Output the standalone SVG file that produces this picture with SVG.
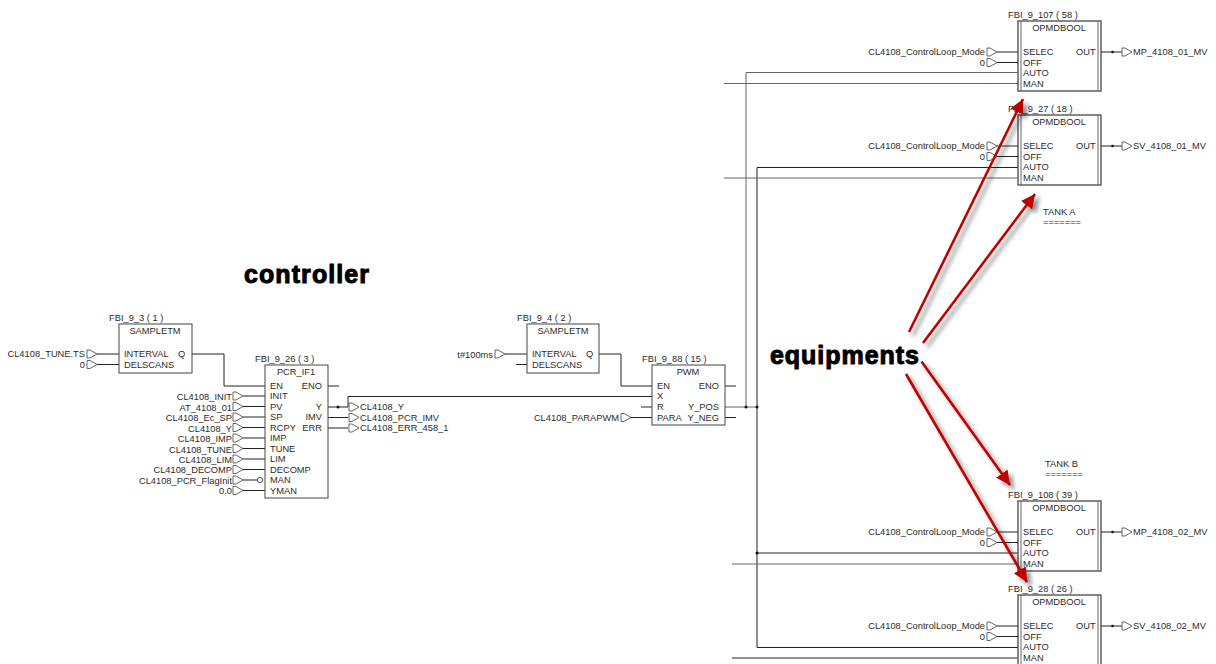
<svg xmlns="http://www.w3.org/2000/svg" xmlns:xlink="http://www.w3.org/1999/xlink" width="1216" height="664" viewBox="0 0 1216 664">
<style>
text{font-family:"Liberation Sans",Arial,sans-serif;font-size:9.3px;fill:#2b2b2b}
.m{text-anchor:middle}.e{text-anchor:end}
.box{fill:#fff;stroke:#444;stroke-width:1}
.dbl{fill:#fff;stroke:#555;stroke-width:1.4}
.w,.w2{fill:none;stroke:#222;stroke-width:1}
.w2{stroke:#666}
.flag{fill:#fff;stroke:#555;stroke-width:.9}
.d{fill:#111}
.big{font-weight:bold;fill:#000;stroke:#000;stroke-width:1}
.red{stroke:#c00000;stroke-width:2.6;fill:none;marker-end:url(#ah)}
</style>
<defs>
<marker id="ah" markerUnits="userSpaceOnUse" markerWidth="16" markerHeight="14" refX="14" refY="7" orient="auto"><path d="M0 0L14 7L0 14Z" fill="#c00000"/></marker>
<filter id="sh" x="-20%" y="-20%" width="140%" height="140%"><feDropShadow dx="4" dy="4" stdDeviation="2" flood-color="#000" flood-opacity=".45"/></filter>
<path id="f" d="M3-4H0V4H3L10 0Z"/>
<g id="opm">
<rect class="dbl" x="0" y="0" width="83" height="70"/>
<path class="w2" d="M3 0V70M80 0V70"/>
<text class="m" x="41" y="10">OPMDBOOL</text>
<text x="5" y="34">SELEC</text><text x="5" y="44.500">OFF</text><text x="5" y="55">AUTO</text><text x="5" y="65.500">MAN</text>
<text x="58" y="34">OUT</text>
<path class="w" d="M-21 31H0M-21 41.500H0M83 31H104"/>
<circle class="d" cx="94.500" cy="31" r="1.300"/>
<use href="#f" class="flag" x="-31" y="31"/><use href="#f" class="flag" x="-31" y="41.500"/><use href="#f" class="flag" x="104" y="31"/>
<text class="e" x="-33" y="34">CL4108_ControlLoop_Mode</text><text class="e" x="-33" y="44.500">0</text>
</g>
</defs>
<rect width="1216" height="664" fill="#fff"/>
<g id="connectors">
<path class="w" d="M192 354H224V386H265M599 354H621V386H652M348 407V396.500H652"/>
<path class="w" d="M328 407H348M328 417.500H348M328 428H348M328 386H339"/>
<path class="w" d="M725 386H736M725 417.500H736M641 407H652"/>
<path class="w2" d="M725 407H757"/>
<path class="w2" d="M746 407V72.500H1018M724 83.500H1018"/>
<path class="w" d="M757 647.500V167.500H1018M757 553H1018M757 647.500H1018"/>
<path class="w2" d="M724 178H1018M732 564H1018"/>
<path class="w" d="M732 658H1018"/>
<circle class="d" cx="338" cy="407" r="1.500"/>
<circle class="d" cx="746" cy="407" r="1.500"/><circle class="d" cx="757" cy="407" r="1.500"/><circle class="d" cx="757" cy="553" r="1.500"/>
</g>
<g id="sampletm1">
<text x="109" y="321">FBI_9_3 ( 1 )</text>
<path class="w" d="M97 354H119M97 364.500H119"/>
<rect class="box" x="119" y="324" width="73" height="49"/>
<text class="m" x="155" y="334">SAMPLETM</text><text x="124" y="357">INTERVAL</text><text x="124" y="367.500">DELSCANS</text><text x="178" y="357">Q</text>
<use href="#f" class="flag" x="87" y="354"/><use href="#f" class="flag" x="87" y="364.500"/>
<text class="e" x="85" y="357">CL4108_TUNE.TS</text><text class="e" x="85" y="368">0</text>
</g>
<g id="pcr">
<text x="255" y="362">FBI_9_26 ( 3 )</text>
<path class="w" d="M243 396H265M243 406.500H265M243 417H265M243 427.500H265M243 438H265M243 448.500H265M243 459H265M243 469.500H265M243 480H257.500M243 490.500H265"/>
<circle cx="260" cy="480" r="2.500" fill="#fff" stroke="#444"/>
<rect class="box" x="265" y="365" width="63" height="133"/>
<text class="m" x="296" y="375">PCR_IF1</text>
<text x="270" y="389">EN</text><text x="270" y="399">INIT</text><text x="270" y="409.500">PV</text><text x="270" y="420">SP</text><text x="270" y="430.500">RCPY</text><text x="270" y="441">IMP</text><text x="270" y="451.500">TUNE</text><text x="270" y="462">LIM</text><text x="270" y="472.500">DECOMP</text><text x="270" y="483">MAN</text><text x="270" y="493.500">YMAN</text>
<text class="e" x="322" y="389">ENO</text><text class="e" x="322" y="409.500">Y</text><text class="e" x="322" y="420">IMV</text><text class="e" x="322" y="430.500">ERR</text>
<g class="flag"><use href="#f" x="233" y="396"/><use href="#f" x="233" y="406.500"/><use href="#f" x="233" y="417"/><use href="#f" x="233" y="427.500"/><use href="#f" x="233" y="438"/><use href="#f" x="233" y="448.500"/><use href="#f" x="233" y="459"/><use href="#f" x="233" y="469.500"/><use href="#f" x="233" y="480"/><use href="#f" x="233" y="490.500"/>
<use href="#f" x="349" y="407"/><use href="#f" x="349" y="417.500"/><use href="#f" x="349" y="428"/></g>
<text class="e" x="232" y="400">CL4108_INIT</text><text class="e" x="232" y="410.500">AT_4108_01</text><text class="e" x="232" y="421">CL4108_Ec_SP</text><text class="e" x="232" y="431.500">CL4108_Y</text><text class="e" x="232" y="442">CL4108_IMP</text><text class="e" x="232" y="452.500">CL4108_TUNE</text><text class="e" x="232" y="463">CL4108_LIM</text><text class="e" x="232" y="473">CL4108_DECOMP</text><text class="e" x="232" y="484">CL4108_PCR_FlagInit</text><text class="e" x="232" y="494">0.0</text>
<text x="360" y="410">CL4108_Y</text><text x="360" y="420.500">CL4108_PCR_IMV</text><text x="360" y="431">CL4108_ERR_458_1</text>
</g>
<g id="sampletm2">
<text x="517" y="321">FBI_9_4 ( 2 )</text>
<path class="w" d="M505 354H527M516 364.500H527"/>
<rect class="box" x="527" y="324" width="72" height="49"/>
<text class="m" x="563" y="334">SAMPLETM</text><text x="532" y="357">INTERVAL</text><text x="532" y="367.500">DELSCANS</text><text x="586" y="357">Q</text>
<use href="#f" class="flag" x="495" y="354"/>
<text class="e" x="493" y="357.500">t#100ms</text>
</g>
<g id="pwm">
<text x="642" y="362">FBI_9_88 ( 15 )</text>
<path class="w" d="M631 417.500H652"/>
<rect class="box" x="652" y="365" width="73" height="60"/>
<text class="m" x="688" y="375">PWM</text>
<text x="657" y="388.500">EN</text><text x="657" y="399">X</text><text x="657" y="409.500">R</text><text x="657" y="420.500">PARA</text>
<text class="e" x="719" y="388.500">ENO</text><text class="e" x="719" y="409.500">Y_POS</text><text class="e" x="719" y="420.500">Y_NEG</text>
<use href="#f" class="flag" x="621" y="417.500"/>
<text class="e" x="619" y="421">CL4108_PARAPWM</text>
</g>
<g id="opm1"><text x="1008" y="18">FBI_9_107 ( 58 )</text><use href="#opm" x="1018" y="21"/><text x="1133" y="55">MP_4108_01_MV</text></g>
<g id="opm2"><text x="1008" y="112">FBI_9_27 ( 18 )</text><use href="#opm" x="1018" y="115"/><text x="1133" y="149">SV_4108_01_MV</text></g>
<g id="opm3"><text x="1008" y="498">FBI_9_108 ( 39 )</text><use href="#opm" x="1018" y="501"/><text x="1133" y="535">MP_4108_02_MV</text></g>
<g id="opm4"><text x="1008" y="592">FBI_9_28 ( 26 )</text><use href="#opm" x="1018" y="595"/><text x="1133" y="629">SV_4108_02_MV</text></g>
<text x="1043" y="215">TANK A</text><text x="1043" y="225">=======</text>
<text x="1045" y="467">TANK B</text><text x="1045" y="477">=======</text>
<text class="big" x="244" y="283" style="font-size:25px" textLength="125" lengthAdjust="spacing">controller</text>
<text class="big" x="770" y="364" style="font-size:25px" textLength="149" lengthAdjust="spacing">equipments</text>
<g id="arrows" filter="url(#sh)">
<path class="red" d="M909 332L1023 99"/>
<path class="red" d="M923 343L1035 194"/>
<path class="red" d="M921.500 361.500L1010 485"/>
<path class="red" d="M906 374L1027 582"/>
</g>
</svg>
